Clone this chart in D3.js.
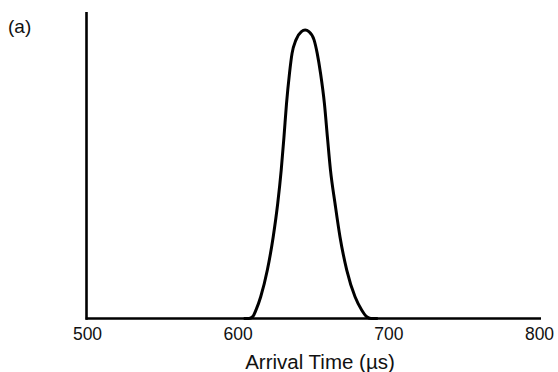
<!DOCTYPE html>
<html lang="en">
<head>
    <meta charset="UTF-8">
    <title>Arrival Time (a)</title>
    <script src="https://d3js.org/d3.v7.min.js"></script>
    <style>
        body { margin: 0; background: #fff; }
        svg { font-family: "Liberation Sans", Arial, sans-serif; }
        .axis path { stroke: #000; stroke-width: 2.6px; }
        .axis text { font-size: 17.5px; fill: #111; }
        .curve { fill: none; stroke: #000; stroke-width: 3px; stroke-linejoin: round; }
    </style>
</head>
<body>
    <svg width="558" height="372"></svg>
    <script>
        // values (relative amplitude)
        const times = [604, 607.5, 610.0, 612.2, 615.3, 619.7, 623.6, 626.6, 628.9, 630.7, 632.4, 634.4, 636.1, 638.7, 642.3, 644.8,
                       647.3, 650.7, 652.8, 655.0, 657.6, 659.6, 661.6, 664.6, 667.9, 672.4, 677.9, 682.3, 685.6, 688.5, 693];
        const values = [0, 0, 0.006, 0.028, 0.071, 0.158, 0.267, 0.376, 0.484, 0.59, 0.70, 0.80, 0.865, 0.909, 0.936, 0.941,
                        0.936, 0.909, 0.865, 0.80, 0.70, 0.59, 0.484, 0.376, 0.267, 0.158, 0.071, 0.028, 0.006, 0, 0];
        const xTicks = [500, 600, 700, 800];
        const xTitle = "Arrival Time (\u00b5s)";
        const panel = "(a)";

        const svg = d3.select("svg");
        const x = d3.scaleLinear().domain([500, 800]).range([87, 539]);
        const y = d3.scaleLinear().domain([0, 1]).range([318.5, 12]);

        const pts = times.map((t, i) => ({ t: t, v: values[i] }));

        svg.append("path")
            .datum(pts)
            .attr("class", "curve")
            .attr("d", d3.line()
                .x(d => x(d.t))
                .y(d => y(d.v))
                .curve(d3.curveMonotoneX));

        const xAxis = svg.append("g")
            .attr("class", "axis")
            .attr("transform", `translate(0,${y(0)})`)
            .call(d3.axisBottom(x).tickValues(xTicks).tickSize(0).tickPadding(9).tickSizeOuter(0));
        xAxis.selectAll(".tick line").remove();
        xAxis.select(".domain").attr("d", `M${x.range()[0] - 1.3},0H${x.range()[1] + 2}`);

        const yAxis = svg.append("g")
            .attr("class", "axis")
            .attr("transform", `translate(${x(500) - 0.5},0)`)
            .call(d3.axisLeft(y).tickValues([]).tickSizeOuter(0));
        yAxis.select(".domain").attr("d", `M0,${y.range()[1]}V${y.range()[0] + 1.3}`);

        svg.append("text")
            .attr("x", 320)
            .attr("y", 369)
            .attr("text-anchor", "middle")
            .style("font-size", "20.5px")
            .style("fill", "#111")
            .text(xTitle);

        svg.append("text")
            .attr("x", 8)
            .attr("y", 33)
            .style("font-size", "19px")
            .style("fill", "#111")
            .text(panel);
    </script>
</body>
</html>
